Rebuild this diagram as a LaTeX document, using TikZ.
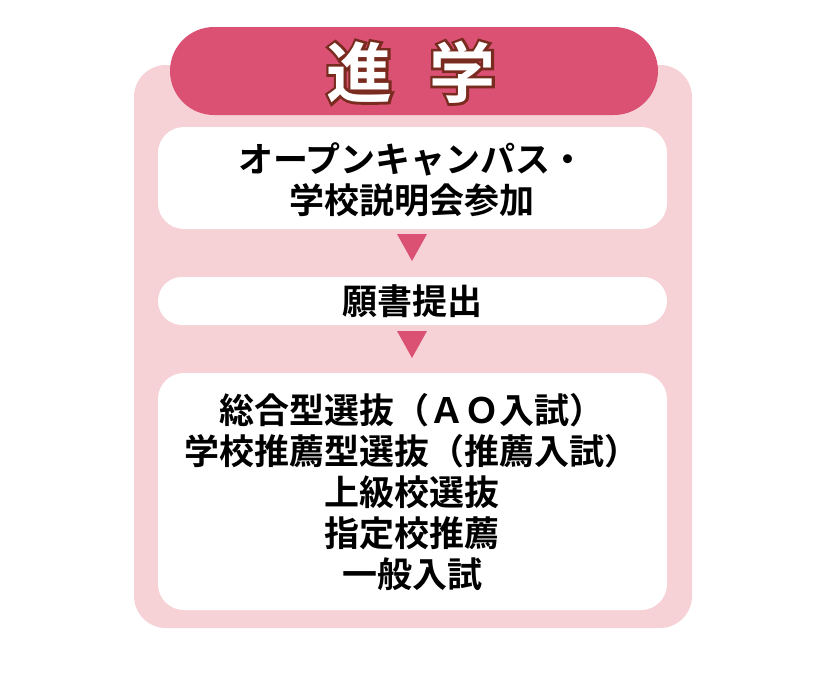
\documentclass[tikz,border=0pt]{standalone}
\usepackage{fontspec}
\newfontfamily\jp{Noto Sans CJK JP}[BoldFont={* Bold}]
\newfontfamily\jpout{Noto Sans CJK JP Bold}[FakeBold=8]
\definecolor{hdr}{HTML}{DB5174}
\definecolor{panel}{HTML}{F6D2D6}
\definecolor{outl}{HTML}{7A2B1F}
\tikzset{
  stepbox/.style={fill=white, rounded corners=26pt, draw=none},
  steptext/.style={font=\jp\bfseries\fontsize{35}{41}\selectfont, align=center, text=black, inner sep=0pt},
  tri/.style={fill=hdr, draw=none},
  titletext/.style={font=\jp\bfseries\fontsize{66}{66}\selectfont, inner sep=0pt}
}
\begin{document}
\begin{tikzpicture}[x=1pt,y=-1pt]
\useasboundingbox (0,0) rectangle (820,675);
% panel
\fill[panel, rounded corners=32pt] (134,65) rectangle (692,628);
% header
\fill[hdr, rounded corners=44pt] (170,27) rectangle (658,115);
\coordinate (tc) at (411,72);
\node[inner sep=0pt, text=outl, font=\jpout\fontsize{66}{66}\selectfont] (titleback) at (tc) {進\hspace{37pt}学};
\node[titletext, text=white] (title) at (tc) {進\hspace{37pt}学};
% boxes
\fill[stepbox] (158,127) rectangle (667,229);
\node[steptext] (t1) at (412,180) {オープンキャンパス・\\学校説明会参加};
\fill[stepbox, rounded corners=24pt] (158,277) rectangle (667,325);
\node[steptext] (t2) at (412,301) {願書提出};
\fill[stepbox] (158,373) rectangle (667,610);
\node[steptext] (t3) at (412,492) {総合型選抜（ＡＯ入試）\\学校推薦型選抜（推薦入試）\\上級校選抜\\指定校推薦\\一般入試};
% triangles
\fill[tri] (397,234) -- (427,234) -- (412,261) -- cycle;
\fill[tri] (397,331) -- (427,331) -- (412,358) -- cycle;
\end{tikzpicture}
\end{document}
